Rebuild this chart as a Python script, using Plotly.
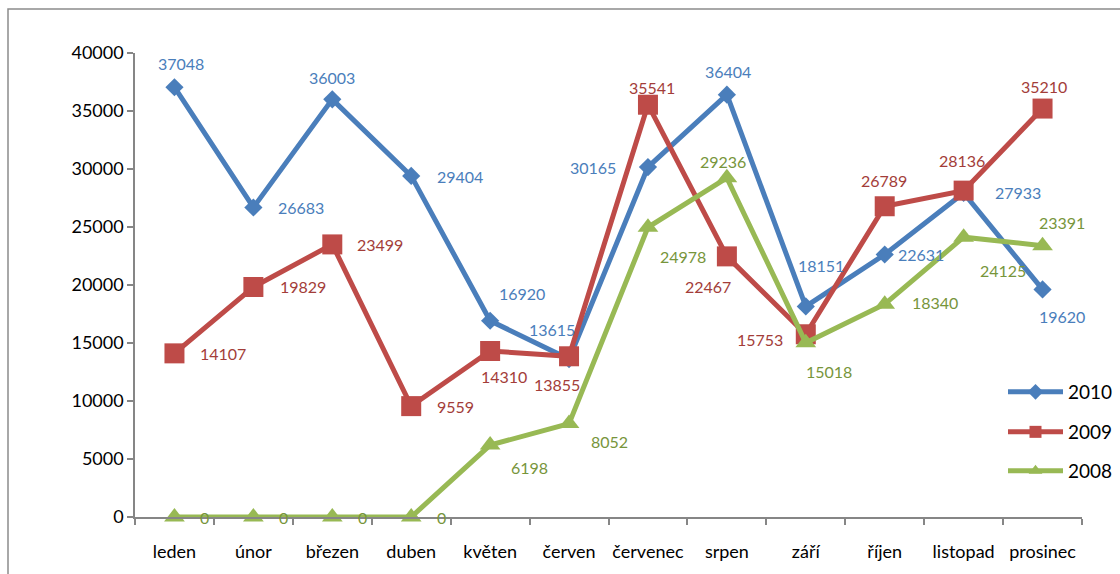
import plotly.graph_objects as go

# Monthly values per year
months = ["leden", "únor", "březen", "duben", "květen", "červen",
          "červenec", "srpen", "září", "říjen", "listopad", "prosinec"]
vals_2010 = [37048, 26683, 36003, 29404, 16920, 13615, 30165, 36404, 18151, 22631, 27933, 19620]
vals_2009 = [14107, 19829, 23499, 9559, 14310, 13855, 35541, 22467, 15753, 26789, 28136, 35210]
vals_2008 = [0, 0, 0, 0, 6198, 8052, 24978, 29236, 15018, 18340, 24125, 23391]
y_ticks = [0, 5000, 10000, 15000, 20000, 25000, 30000, 35000, 40000]

# Label placement (pixel offsets from each point: right, up)
off_2010 = [(7, 24), (48, 0), (0, 22), (49, -1), (32, 27), (-17, 30),
            (-55, 0), (1, 23), (15, 41), (36, 0), (54, 0), (19, -27)]
off_2009 = [(49, 0), (50, 0), (48, 0), (44, 0), (14, -25), (-12, -28),
            (4, 17), (-19, -30), (-46, -5), (-1, 26), (-2, 30), (1, 22)]
off_2008 = [(30, 0), (30, 0), (30, 0), (30, 0), (39, -22), (40, -18),
            (35, -29), (-4, 16), (23, -29), (50, 2), (39, -33), (19, 23)]

FONT = "Lato"
series = [
    ("2010", vals_2010, off_2010, "#4a7ebb", "#4a7ebb", "diamond", 14, "legend"),
    ("2009", vals_2009, off_2009, "#be4b48", "#a33d39", "square", 20, "legend2"),
    ("2008", vals_2008, off_2008, "#98b954", "#77953b", "triangle-up", 18, "legend3"),
]

fig = go.Figure()
annotations = []
for name, vals, offs, color, lab_color, symbol, msize, leg in series:
    fig.add_trace(go.Scatter(
        x=months, y=vals, name=name, mode="lines+markers",
        line=dict(color=color, width=5),
        marker=dict(symbol=symbol, size=msize, color=color),
        legend=leg, cliponaxis=False,
    ))
    for m, v, (dx, dy) in zip(months, vals, offs):
        annotations.append(dict(
            x=m, y=v, xref="x", yref="y", text=str(v), showarrow=False,
            xshift=dx, yshift=dy,
            font=dict(family=FONT, size=16, color=lab_color),
        ))

L, R, T, B = 135, 38, 53, 57
W, H = 1120, 574
pw, ph = W - L - R, H - T - B

def px_x(px):
    return (px - L) / pw

def px_y(py):
    return (H - B - py) / ph

leg_common = dict(font=dict(family=FONT, size=19, color="#000000"),
                  bgcolor="rgba(0,0,0,0)", borderwidth=0, itemsizing="constant",
                  xanchor="left", yanchor="middle", itemwidth=55)

fig.update_layout(
    width=W, height=H,
    margin=dict(l=L, r=R, t=T, b=B, autoexpand=False),
    paper_bgcolor="white", plot_bgcolor="white",
    font=dict(family=FONT, size=18, color="#000000"),
    showlegend=True,
    legend=dict(x=px_x(1003), y=px_y(392), **leg_common),
    legend2=dict(x=px_x(1003), y=px_y(432), **leg_common),
    legend3=dict(x=px_x(1003), y=px_y(471), **leg_common),
    annotations=annotations,
    shapes=[dict(type="rect", xref="paper", yref="paper",
                 x0=px_x(8), y0=px_y(590), x1=px_x(1130), y1=px_y(9),
                 line=dict(color="#8c8c8c", width=1.5), layer="below")],
    xaxis=dict(
        type="category", categoryorder="array", categoryarray=months,
        range=[-0.5, 11.5], showline=True, linecolor="#868686", linewidth=1.5,
        ticks="outside", tickson="boundaries", ticklen=6, tickcolor="#868686",
        tickwidth=1.5, showgrid=False, zeroline=False, ticklabelstandoff=18,
        tickangle=0, automargin=False,
        tickfont=dict(family=FONT, size=18, color="#000000"),
    ),
    yaxis=dict(
        range=[0, 40000], tickvals=y_ticks, ticktext=[str(t) for t in y_ticks],
        showline=True, linecolor="#868686", linewidth=1.5,
        ticks="outside", ticklen=6, tickcolor="#868686", tickwidth=1.5,
        showgrid=False, zeroline=False, automargin=False,
        tickfont=dict(family=FONT, size=18, color="#000000"),
    ),
)

fig.write_html("out.html")
